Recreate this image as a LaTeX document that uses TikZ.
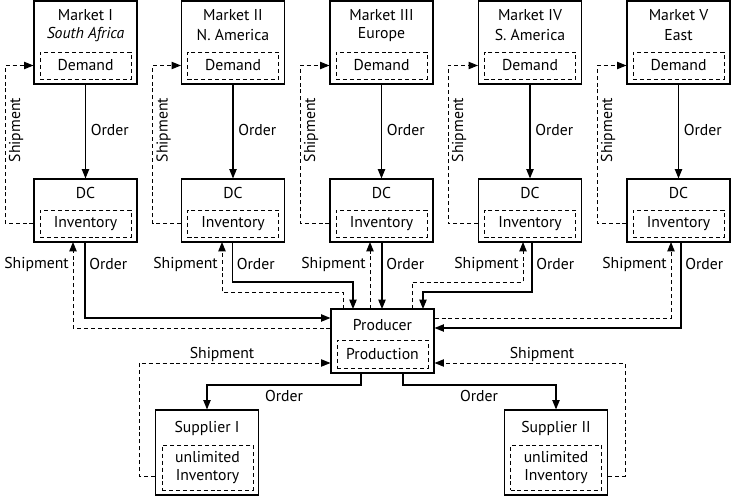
\documentclass[tikz,border=0pt]{standalone}
\usepackage{fontspec}
\setmainfont{PT Sans}
\usetikzlibrary{arrows.meta}
\begin{document}
\begin{tikzpicture}[x=0.75pt,y=-0.75pt,
  every node/.style={font=\fontsize{11.8}{13.5}\selectfont, inner sep=0pt},
  outer/.style={draw, line width=0.85pt, minimum width=77.25pt},
  inner/.style={draw, dashed, line width=0.7pt, dash pattern=on 3pt off 2.2pt, minimum width=68.25pt},
  ord/.style={line width=0.85pt},
  ship/.style={line width=0.7pt, dash pattern=on 3pt off 2.2pt},
  tip/.style={-{Triangle[length=7pt,width=5.5pt]}},
  lab/.style={}
]
\useasboundingbox (0,0) rectangle (732,498);

% ---- Markets ----
\node[outer, minimum height=62.25pt] (m1) at (85.5,42.5) {};
\node[outer, minimum height=62.25pt] (m2) at (233,42.5) {};
\node[outer, minimum height=62.25pt] (m3) at (381.5,42.5) {};
\node[outer, minimum height=62.25pt] (m4) at (530,42.5) {};
\node[outer, minimum height=62.25pt] (m5) at (678.5,42.5) {};

\node (mt1) at (85.5,15) {Market I};
\node (ms1) at (85.5,35) {\itshape South Africa};
\node (mt2) at (233,15) {Market II};
\node (ms2) at (233,35) {N. America};
\node (mt3) at (381.5,15) {Market III};
\node (ms3) at (381.5,35) {Europe};
\node (mt4) at (530,15) {Market IV};
\node (ms4) at (530,35) {S. America};
\node (mt5) at (678.5,15) {Market V};
\node (ms5) at (678.5,35) {East};

\foreach \i/\c in {1/85.5,2/233,3/381.5,4/530,5/678.5}{
  \node[inner, minimum height=20.25pt] (d\i) at (\c,65.5) {Demand};
  \node[outer, minimum height=47.25pt] (dc\i) at (\c,210.5) {};
  \node (dct\i) at (\c,193) {DC};
  \node[inner, minimum height=20.25pt] (inv\i) at (\c,223.5) {Inventory};
  \draw[ord,tip] (m\i.south) -- (dc\i.north);
  \node[anchor=west] (ol\i) at (\c+5,130) {Order};
}

% shipment loops DC -> Market
\foreach \i/\s in {1/5,2/152.5,3/300,4/448,5/597}{
  \coordinate (sx\i) at (\s,0);
  \draw[ship,tip] (dc\i.west |- inv\i.center) -| (sx\i |- d\i.center) -- (m\i.west |- d\i.center);
  \node[rotate=90] (sl\i) at (\s+11,130) {Shipment};
}

% ---- Producer ----
\node[outer, minimum height=48pt] (p) at (382.5,341) {};
\node (pt) at (382.5,325) {Producer};
\node[inner, minimum height=21pt] (pr) at (382.5,354) {Production};

% DC1
\coordinate (a1) at (85,242);
\coordinate (b1) at (73,242);
\draw[ord,tip] (a1) |- (p.west |- 0,318);
\draw[ship,tip] (p.west |- 0,328) -| (b1);
% DC2
\coordinate (a2) at (232.5,242);
\coordinate (b2) at (222,242);
\coordinate (c2) at (353,309);
\coordinate (e2) at (343,309);
\draw[ord,tip] (a2) -- (232.5,282) -| (c2);
\draw[ship,tip] (e2) -- (343,292) -| (b2);
% DC3
\coordinate (a3) at (382,242);
\coordinate (b3) at (370,242);
\draw[ord,tip] (a3) -- (382,309);
\draw[ship,tip] (370,309) -- (b3);
% DC4
\coordinate (a4) at (532,242);
\coordinate (b4) at (523,242);
\coordinate (c4) at (423,309);
\coordinate (e4) at (412,309);
\draw[ord,tip] (a4) -- (532,292) -| (c4);
\draw[ship,tip] (e4) -- (412,282) -| (b4);
% DC5
\coordinate (a5) at (681,242);
\coordinate (b5) at (671,242);
\draw[ord,tip] (a5) |- (p.east |- 0,328);
\draw[ship,tip] (p.east |- 0,318) -| (b5);

\node[anchor=east] at (69,264) {Shipment};
\node[anchor=west] at (89,264) {Order};
\node[anchor=east] at (218,264) {Shipment};
\node[anchor=west] at (236.5,264) {Order};
\node[anchor=east] at (366,264) {Shipment};
\node[anchor=west] at (386,264) {Order};
\node[anchor=east] at (519,264) {Shipment};
\node[anchor=west] at (536,264) {Order};
\node[anchor=east] at (667,264) {Shipment};
\node[anchor=west] at (685,264) {Order};

% ---- Suppliers ----
\node[outer, minimum height=63.75pt] (s1) at (207,452.5) {};
\node (st1) at (207,428) {Supplier I};
\node[inner, minimum height=33.75pt, align=center] (si1) at (207.5,467.5) {unlimited\\Inventory};
\node[outer, minimum height=63.75pt] (s2) at (556,452.5) {};
\node (st2) at (556,428) {Supplier II};
\node[inner, minimum height=33.75pt, align=center] (si2) at (556,467.5) {unlimited\\Inventory};

\draw[ord,tip] (361,373) -- (361,385) -| (s1.north);
\draw[ord,tip] (403,373) -- (403,385) -| (s2.north);
\node at (284,396) {Order};
\node at (479,396) {Order};

\coordinate (l1) at (139,0);
\coordinate (l2) at (625,0);
\draw[ship,tip] (s1.west |- 0,476) -| (l1 |- 0,363) -- (p.west |- 0,363);
\draw[ship,tip] (s2.east |- 0,476) -| (l2 |- 0,363) -- (p.east |- 0,363);
\node at (222,354) {Shipment};
\node at (542,354) {Shipment};
\end{tikzpicture}
\end{document}
